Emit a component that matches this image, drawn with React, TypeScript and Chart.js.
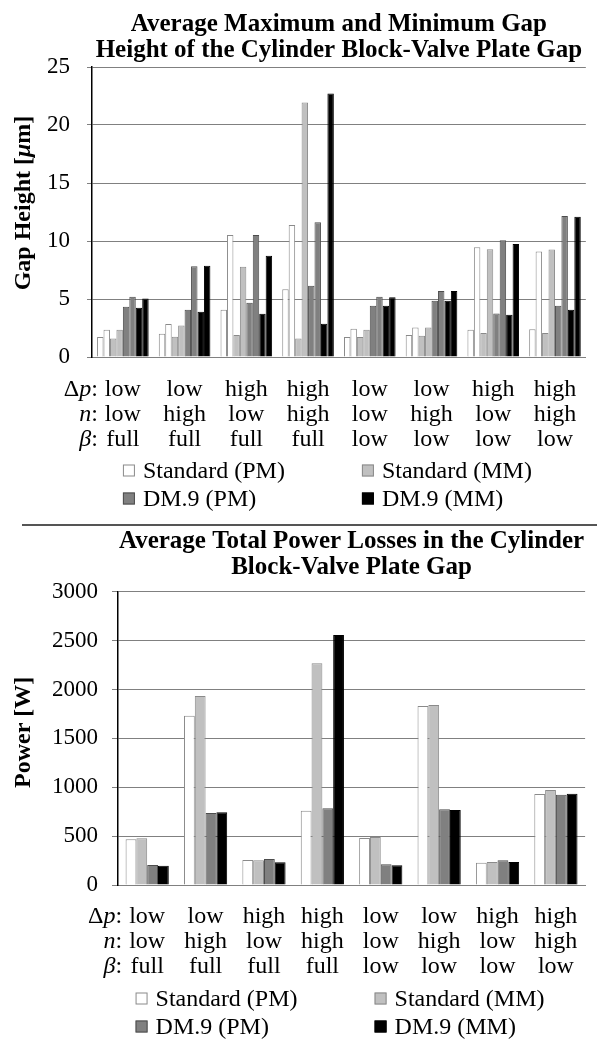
import React, { useEffect, useRef } from 'react';
import { Chart, registerables } from 'chart.js';

Chart.register(...registerables);

const SERIF = '"Liberation Serif", "Times New Roman", Times, serif';

// Categories (three factor rows)
const dpLevels = ['low', 'low', 'high', 'high', 'low', 'low', 'high', 'high'];
const nLevels = ['low', 'high', 'low', 'high', 'low', 'high', 'low', 'high'];
const betaLevels = ['full', 'full', 'full', 'full', 'low', 'low', 'low', 'low'];
const rowPrefixes: [string, boolean][][] = [
  [['Δ', false], ['p', true], [':', false]],
  [['n', true], [':', false]],
  [['β', true], [':', false]],
];

const seriesNames = ['Standard (PM)', 'Standard (MM)', 'DM.9 (PM)', 'DM.9 (MM)'];

// Top chart: average min / max gap height [µm]
const stdPmMin = [1.72, 2.0, 4.07, 5.85, 1.72, 1.89, 2.35, 2.4];
const stdPmMax = [2.35, 2.84, 10.52, 11.38, 2.44, 2.55, 9.47, 9.09];
const stdMmMin = [1.6, 1.75, 1.89, 1.6, 1.72, 1.84, 2.06, 2.06];
const stdMmMax = [2.35, 2.72, 7.77, 21.94, 2.35, 2.55, 9.29, 9.26];
const dmPmMin = [4.33, 4.07, 4.67, 6.14, 4.42, 4.85, 3.76, 4.42];
const dmPmMax = [5.19, 7.83, 10.52, 11.62, 5.19, 5.68, 10.07, 12.16];
const dmMmMin = [4.24, 3.9, 3.73, 2.87, 4.42, 4.85, 3.64, 4.07];
const dmMmMax = [5.04, 7.86, 8.72, 22.72, 5.16, 5.68, 9.75, 12.1];

// Bottom chart: average total power losses [W]
const stdPmPower = [467, 1731, 256, 760, 481, 1830, 228, 930];
const stdMmPower = [477, 1932, 253, 2267, 491, 1840, 235, 971];
const dmPmPower = [204, 736, 266, 784, 212, 774, 252, 923];
const dmMmPower = [197, 743, 232, 2556, 201, 767, 235, 933];

const gapTicksMax = 25;
const gapTicksStep = 5;
const powerTicksMax = 3000;
const powerTicksStep = 500;

const gapTitle: [string, boolean][] = [['Gap Height [', false], ['μ', true], ['m]', false]];
const powerTitle: [string, boolean][] = [['Power [W]', false]];

const FILLS = ['#ffffff', '#c0c0c0', '#808080', '#000000'];
const STROKES = ['#8a8a8a', '#8a8a8a', '#4d4d4d', '#000000'];

const labels = dpLevels.map((_, i) => [dpLevels[i], nLevels[i], betaLevels[i]]);

function drawSegs(ctx: any, segs: [string, boolean][], size: number, bold: boolean, xStart: number, y: number) {
  let x = xStart;
  for (const [t, it] of segs) {
    ctx.font = `${it ? 'italic ' : ''}${bold ? 'bold ' : ''}${size}px ${SERIF}`;
    ctx.fillText(t, x, y);
    x += ctx.measureText(t).width;
  }
}
function segsWidth(ctx: any, segs: [string, boolean][], size: number, bold: boolean) {
  let total = 0;
  for (const [t, it] of segs) {
    ctx.font = `${it ? 'italic ' : ''}${bold ? 'bold ' : ''}${size}px ${SERIF}`;
    total += ctx.measureText(t).width;
  }
  return total;
}

const annotPlugin = {
  id: 'annot',
  afterDraw(chart: any, _args: any, opts: any) {
    const { ctx, chartArea } = chart;
    const xs = chart.scales.x;
    const x0 = xs.getPixelForValue(0);
    ctx.save();
    ctx.fillStyle = '#000';
    ctx.textBaseline = 'middle';
    ctx.textAlign = 'left';
    // row prefixes
    for (let r = 0; r < rowPrefixes.length; r++) {
      const segs = rowPrefixes[r];
      const y = chartArea.bottom + opts.labelPad + opts.lineH / 2 + r * opts.lineH;
      const total = segsWidth(ctx, segs, opts.fontSize, false);
      drawSegs(ctx, segs, opts.fontSize, false, x0 - opts.prefixGap - total, y);
    }
    // y-axis title (rotated)
    const tw = segsWidth(ctx, opts.yTitle, 24, true);
    const cy = (chartArea.top + chartArea.bottom) / 2 + opts.yTitleOffset;
    ctx.save();
    ctx.translate(30, cy);
    ctx.rotate(-Math.PI / 2);
    ctx.textBaseline = 'alphabetic';
    drawSegs(ctx, opts.yTitle, 24, true, -tw / 2, 0);
    ctx.restore();
    // legend 2x2
    const cx = (chartArea.left + chartArea.right) / 2;
    const colX = [cx - 216, cx + 23];
    const rowY = [chartArea.bottom + opts.legendRow1, chartArea.bottom + opts.legendRow2];
    ctx.font = `${opts.fontSize}px ${SERIF}`;
    seriesNames.forEach((name, i) => {
      const bx = colX[i % 2];
      const by = rowY[Math.floor(i / 2)];
      const bs = 12;
      ctx.fillStyle = FILLS[i];
      ctx.fillRect(bx, by - bs / 2 - 1, bs, bs);
      ctx.strokeStyle = STROKES[i];
      ctx.lineWidth = 1;
      ctx.strokeRect(bx + 0.5, by - bs / 2 - 0.5, bs - 1, bs - 1);
      ctx.fillStyle = '#000';
      ctx.fillText(name, bx + bs + 8, by);
    });
    ctx.restore();
  },
};

function makeBarDs(label: string, data: number[], idx: number, cp: number) {
  return {
    label,
    data,
    backgroundColor: FILLS[idx],
    borderColor: STROKES[idx],
    borderWidth: 1,
    barPercentage: 1,
    categoryPercentage: cp,
  };
}

function baseOptions(cfg: any) {
  return {
    animation: false,
    responsive: false,
    maintainAspectRatio: false,
    devicePixelRatio: 1,
    layout: { padding: 0 },
    plugins: {
      legend: { display: false },
      tooltip: { enabled: false },
      title: {
        display: true,
        text: cfg.title,
        fullSize: false,
        color: '#000',
        font: { family: SERIF, size: 25, weight: 'bold', lineHeight: 1.04 },
        padding: cfg.titlePad,
      },
      annot: {
        labelPad: cfg.xPad,
        lineH: 24 * 1.04,
        fontSize: 24,
        prefixGap: 25,
        legendRow1: 114.5,
        legendRow2: 142.5,
        yTitle: cfg.yTitle,
        yTitleOffset: cfg.yTitleOffset,
      },
    },
    scales: {
      x: {
        grid: { display: false, drawTicks: false },
        border: { color: '#808080', width: 1 },
        ticks: {
          color: '#000',
          font: { family: SERIF, size: 24, lineHeight: 1.04 },
          padding: cfg.xPad,
          maxRotation: 0,
          autoSkip: false,
        },
        afterFit: (s: any) => {
          s.height = cfg.xHeight;
        },
      },
      y: {
        min: 0,
        max: cfg.yMax,
        ticks: {
          stepSize: cfg.yStep,
          color: '#000',
          font: { family: SERIF, size: 23 },
          padding: cfg.yPad,
          callback: (v: any) => String(v),
        },
        grid: { color: '#808080', lineWidth: 1, tickLength: cfg.tickLen },
        border: { color: '#000', width: 1.5 },
        afterFit: (s: any) => {
          s.width = cfg.yWidth;
        },
      },
    },
  };
}

function GapChart() {
  const ref = useRef<HTMLCanvasElement>(null);
  useEffect(() => {
    const cp = 0.836;
    const chart = new Chart(ref.current!, {
      type: 'bar',
      data: {
        labels,
        datasets: [
          makeBarDs('Standard (PM) min', stdPmMin, 0, cp),
          makeBarDs('Standard (PM) max', stdPmMax, 0, cp),
          makeBarDs('Standard (MM) min', stdMmMin, 1, cp),
          makeBarDs('Standard (MM) max', stdMmMax, 1, cp),
          makeBarDs('DM.9 (PM) min', dmPmMin, 2, cp),
          makeBarDs('DM.9 (PM) max', dmPmMax, 2, cp),
          makeBarDs('DM.9 (MM) min', dmMmMin, 3, cp),
          makeBarDs('DM.9 (MM) max', dmMmMax, 3, cp),
        ],
      },
      options: baseOptions({
        title: ['Average Maximum and Minimum Gap', 'Height of the Cylinder Block-Valve Plate Gap'],
        titlePad: { top: 12, bottom: 3 },
        xPad: 20,
        xHeight: 165,
        yMax: gapTicksMax,
        yStep: gapTicksStep,
        yPad: 17,
        tickLen: 5,
        yTitle: gapTitle,
        yTitleOffset: -9,
        yWidth: 92,
      }) as any,
      plugins: [annotPlugin as any],
    });
    return () => chart.destroy();
  }, []);
  return <canvas ref={ref} width={597} height={522} style={{ display: 'block' }} />;
}

function PowerChart() {
  const ref = useRef<HTMLCanvasElement>(null);
  useEffect(() => {
    const cp = 0.74;
    const chart = new Chart(ref.current!, {
      type: 'bar',
      data: {
        labels,
        datasets: [
          makeBarDs(seriesNames[0], stdPmPower, 0, cp),
          makeBarDs(seriesNames[1], stdMmPower, 1, cp),
          makeBarDs(seriesNames[2], dmPmPower, 2, cp),
          makeBarDs(seriesNames[3], dmMmPower, 3, cp),
        ],
      },
      options: baseOptions({
        title: ['Average Total Power Losses in the Cylinder', 'Block-Valve Plate Gap'],
        titlePad: { top: 3, bottom: 10.7 },
        xPad: 19,
        xHeight: 154,
        yMax: powerTicksMax,
        yStep: powerTicksStep,
        yPad: 14,
        tickLen: 6,
        yTitle: powerTitle,
        yTitleOffset: -6,
        yWidth: 118,
      }) as any,
      plugins: [annotPlugin as any],
    });
    return () => chart.destroy();
  }, []);
  return <canvas ref={ref} width={597} height={513} style={{ display: 'block' }} />;
}

export default function App() {
  return (
    <div style={{ position: 'absolute', left: 0, top: 0, width: 597, height: 1039, background: '#fff' }}>
      <div style={{ position: 'absolute', left: 0, top: 0 }}>
        <GapChart />
      </div>
      <div style={{ position: 'absolute', left: 22, top: 524, width: 575, height: 2, background: '#555' }} />
      <div style={{ position: 'absolute', left: 0, top: 526 }}>
        <PowerChart />
      </div>
    </div>
  );
}
